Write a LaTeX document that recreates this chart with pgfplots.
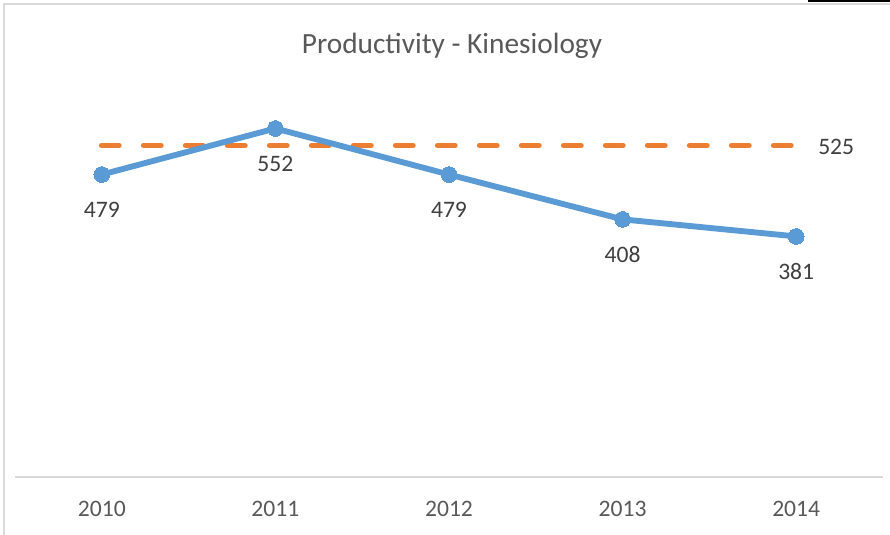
\documentclass[border=0pt]{standalone}
\usepackage{pgfplots}
\pgfplotsset{compat=1.18}
\usepackage{fontspec}
\setmainfont{Carlito}
\definecolor{cblue}{HTML}{5B9BD5}
\definecolor{corange}{HTML}{ED7D31}
\definecolor{axisgray}{HTML}{D9D9D9}
\definecolor{txtgray}{HTML}{595959}
\definecolor{lblgray}{HTML}{404040}
\begin{document}
\begin{tikzpicture}
\useasboundingbox (0,0) rectangle (667.5pt,401.25pt);
\fill[white] (0,0) rectangle (667.5pt,401.25pt);
% chart border (left and top) and top-right black line
\draw[axisgray, line width=1.5pt] (3pt,0) -- (3pt,398.6pt) -- (667.5pt,398.6pt);
\draw[black, line width=1.5pt] (606pt,400.5pt) -- (667.5pt,400.5pt);
\node[text=txtgray, font=\fontsize{22}{26}\selectfont] at (339pt,367pt) {Productivity - Kinesiology};
\begin{axis}[
  at={(11.25pt,43.5pt)}, anchor=south west,
  scale only axis, width=651pt, height=331.5pt,
  xmin=-0.5, xmax=4.5, ymin=0, ymax=700,
  axis x line=bottom, axis y line=none,
  x axis line style={-, draw=axisgray, line width=1.2pt},
  xtick={0,1,2,3,4},
  xticklabels={2010,2011,2012,2013,2014},
  major tick length=0pt,
  xtick style={draw=none},
  xticklabel style={text=txtgray, font=\fontsize{17.7}{20}\selectfont, yshift=-14.6pt},
  clip=false,
]
\addplot[corange, line width=4.4pt, line cap=round, dash pattern=on 12.75pt off 18.75pt] coordinates {(0,525) (1,525) (2,525) (3,525) (4,525)};
\addplot[cblue, line width=4.4pt, mark=*, mark size=5.9pt, mark options={solid, fill=cblue, draw=cblue, line width=0pt},
  nodes near coords, point meta=explicit symbolic,
  every node near coord/.style={anchor=center, yshift=-26.25pt, text=lblgray, font=\fontsize{17.7}{20}\selectfont}]
  coordinates {(0,479)[479] (1,552)[552] (2,479)[479] (3,408)[408] (4,381)[381]};
\addplot[draw=none, mark=none, nodes near coords, point meta=explicit symbolic,
  every node near coord/.style={anchor=center, xshift=30pt, yshift=-1pt, text=lblgray, font=\fontsize{17.7}{20}\selectfont}]
  coordinates {(4,525)[525]};
\end{axis}
\end{tikzpicture}
\end{document}
